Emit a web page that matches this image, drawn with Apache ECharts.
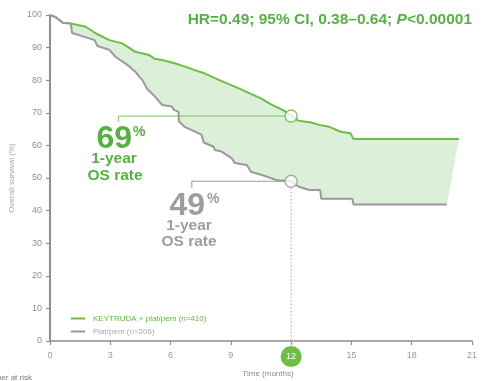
<!DOCTYPE html>
<html>
<head>
<meta charset="utf-8">
<script src="https://cdn.jsdelivr.net/npm/echarts@6/dist/echarts.min.js"></script>
<style>
  html, body { margin: 0; padding: 0; background: #fff; }
  #chart { width: 482px; height: 381px; }
</style>
</head>
<body>
<div id="chart"></div>
<script>
// Kaplan–Meier overall survival, months vs. % alive
const keytrudaName = 'KEYTRUDA + plat/pem (n=410)';
const platPemName = 'Plat/pem (n=206)';

const keytrudaOS = [
  [0, 100], [0.3, 99.3], [0.64, 97.6], [1.04, 97.4], [1.1, 96.9], [1.78, 96.4],
  [2.27, 94.4], [2.96, 92.3], [3.6, 91.3], [4.25, 88.7], [4.94, 87.7], [5.2, 86.6],
  [5.58, 86.2], [6.2, 85.2], [6.8, 84.0], [7.2, 83.1], [7.6, 82.3], [8.05, 81.1],
  [8.4, 80.1], [9.4, 77.5], [10.0, 75.8], [10.5, 74.4], [11.0, 72.6], [11.6, 70.8],
  [12, 69.2], [12.35, 67.6], [13, 67.0], [13.4, 66.3], [13.9, 65.7], [14.47, 64.2],
  [14.96, 63.7], [15.1, 62.0], [20.35, 62.0]
];

const platPemOS = [
  [0, 100], [0.3, 99.3], [0.64, 97.6], [1.04, 97.4], [1.1, 94.5], [1.73, 93.3],
  [2.22, 92.3], [2.37, 90.5], [2.96, 89.3], [3.26, 87.2], [3.85, 84.7], [4.25, 82.6],
  [4.44, 81.1], [4.6, 80.1], [4.84, 77.3], [5.18, 75.3], [5.58, 72.4], [6.07, 71.9],
  [6.17, 70.9], [6.4, 70.3], [6.42, 67.3], [6.7, 65.7], [7.06, 64.7], [7.55, 63.2],
  [7.65, 60.9], [8.15, 59.6], [8.2, 58.6], [8.54, 58.1], [9.04, 56.1], [9.2, 54.6],
  [9.8, 54.0], [10.0, 51.9], [10.7, 50.6], [11.26, 49.4], [12, 48.9], [12.4, 47.3],
  [12.9, 46.3], [13.45, 46.3], [13.5, 43.6], [15.05, 43.6], [15.1, 41.9], [19.75, 41.9]
];

// 1-year landmark rates (KEYTRUDA arm, plat/pem arm)
const landmarkMonth = 12;
const oneYearRates = [69, 49];
// where each rate callout bracket starts (month) and how far its tick drops (%)
const calloutStart = [3.42, 7.06];
const calloutTickDrop = [1.8, 2.1];

const xTickValues = [0, 3, 6, 9, 12, 15, 18, 21];
const yTickValues = [0, 10, 20, 30, 40, 50, 60, 70, 80, 90, 100];

const GREEN = '#6dbd47';
const GREEN_TEXT = '#56b045';
const GREY = '#9a9a9a';
const FILL = '#dcefd9';
const SANS = "'Liberation Sans', Arial, sans-serif";

const chart = echarts.init(document.getElementById('chart'), null, { renderer: 'canvas' });

function callout(i) {
  const x0 = calloutStart[i], r = oneYearRates[i];
  return [[x0, r - calloutTickDrop[i]], [x0, r], [landmarkMonth, r]];
}

function calloutText(x, y, text, size, align, color) {
  return {
    type: 'text', x: x, y: y, z: 10,
    style: { text: text, align: align, verticalAlign: 'middle',
      fontFamily: SANS, fontWeight: 'bold', fontSize: size, fill: color }
  };
}

chart.setOption({
  animation: false,
  grid: { left: 47, right: 10, top: 15, bottom: 40, containLabel: false },
  legend: {
    orient: 'vertical',
    left: 66,
    top: 309,
    itemWidth: 14,
    itemHeight: 2,
    itemGap: 4,
    icon: 'rect',
    textStyle: { fontFamily: SANS, fontSize: 8, lineHeight: 9, padding: [0, 0, 0, 3] },
    data: [
      { name: keytrudaName, textStyle: { color: '#62b83e' } },
      { name: platPemName, textStyle: { color: '#ababab' } }
    ]
  },
  xAxis: {
    type: 'value',
    min: 0, max: 21, interval: 3,
    axisLine: { lineStyle: { color: '#8f8f8f', width: 1.5 } },
    axisTick: { show: true, length: 4, lineStyle: { color: '#8f8f8f', width: 1.2 } },
    splitLine: { show: false },
    axisLabel: {
      margin: 5,
      formatter: v => (v === landmarkMonth ? '{hl|' + v + '}' : '{n|' + v + '}'),
      rich: {
        n: { fontFamily: SANS, fontSize: 9, color: '#9a9a9a', height: 20, lineHeight: 20 },
        hl: {
          fontFamily: SANS, fontSize: 9, color: '#fff', backgroundColor: '#6dbd47',
          width: 21, height: 21, lineHeight: 21, borderRadius: 11, align: 'center'
        }
      }
    }
  },
  yAxis: {
    type: 'value',
    min: 0, max: 100, interval: 10,
    name: 'Overall survival (%)',
    nameLocation: 'middle',
    nameGap: 29,
    nameTextStyle: { fontFamily: SANS, fontSize: 8, color: '#a8a8a8' },
    axisLine: { show: true, lineStyle: { color: '#8f8f8f', width: 2 } },
    axisTick: { show: true, length: 4, lineStyle: { color: '#8f8f8f', width: 1.2 } },
    splitLine: { show: false },
    axisLabel: { margin: 8, fontFamily: SANS, fontSize: 9, color: '#8f8f8f' }
  },
  series: [
    {
      type: 'custom',
      silent: true,
      z: 1,
      data: [[0, 0]],
      renderItem: (params, api) => {
        const pts = keytrudaOS.map(p => api.coord(p))
          .concat(platPemOS.slice().reverse().map(p => api.coord(p)));
        return { type: 'polygon', shape: { points: pts }, style: { fill: FILL } };
      }
    },
    {
      name: keytrudaName,
      type: 'line',
      data: keytrudaOS,
      symbol: 'none',
      z: 3,
      color: GREEN,
      lineStyle: { color: GREEN, width: 2 }
    },
    {
      name: platPemName,
      type: 'line',
      data: platPemOS,
      symbol: 'none',
      z: 3,
      color: GREY,
      lineStyle: { color: GREY, width: 2 }
    },
    {
      type: 'line', silent: true, symbol: 'none', z: 2,
      data: callout(0),
      lineStyle: { color: '#7cc35a', width: 1 }
    },
    {
      type: 'line', silent: true, symbol: 'none', z: 2,
      data: callout(1),
      lineStyle: { color: '#9a9a9a', width: 1 }
    },
    {
      type: 'line', silent: true, symbol: 'none', z: 2,
      data: [[landmarkMonth, oneYearRates[1]], [landmarkMonth, 0]],
      lineStyle: { color: '#a5a5a5', width: 1, type: [1.5, 2] }
    },
    {
      type: 'scatter', silent: true, z: 5,
      symbolSize: 12,
      data: [
        { value: [landmarkMonth, oneYearRates[0]], itemStyle: { color: '#fff', borderColor: GREEN, borderWidth: 1.5 } },
        { value: [landmarkMonth, oneYearRates[1]], itemStyle: { color: '#fff', borderColor: GREY, borderWidth: 1.5 } }
      ]
    }
  ],
  graphic: [
    {
      type: 'text', x: 472, y: 20, z: 10,
      style: {
        text: '{a|HR=0.49; 95% CI, 0.38–0.64; }{i|P}{a|<0.00001}',
        align: 'right', verticalAlign: 'middle',
        rich: {
          a: { fontFamily: SANS, fontWeight: 'bold', fontSize: 15.5, fill: GREEN_TEXT },
          i: { fontFamily: SANS, fontWeight: 'bold', fontStyle: 'italic', fontSize: 15.5, fill: GREEN_TEXT }
        }
      }
    },
    // KEYTRUDA arm 1-year callout
    calloutText(132, 139, String(oneYearRates[0]), 32, 'right', GREEN_TEXT),
    calloutText(133, 132, '%', 14, 'left', GREEN_TEXT),
    calloutText(114, 159, '1-year', 15.5, 'center', GREEN_TEXT),
    calloutText(115, 176, 'OS rate', 15.5, 'center', GREEN_TEXT),
    // plat/pem arm 1-year callout
    calloutText(205, 206, String(oneYearRates[1]), 32, 'right', '#9d9d9d'),
    calloutText(207, 199, '%', 14, 'left', '#9d9d9d'),
    calloutText(189, 226, '1-year', 15.5, 'center', '#9d9d9d'),
    calloutText(189, 242, 'OS rate', 15.5, 'center', '#9d9d9d'),
    {
      type: 'text', x: 268, y: 374, z: 10,
      style: { text: 'Time (months)', align: 'center', verticalAlign: 'middle',
        fontFamily: SANS, fontSize: 8, fill: '#8a8a8a' }
    },
    {
      type: 'text', x: 32, y: 378, z: 10,
      style: { text: 'Number at risk', align: 'right', verticalAlign: 'middle',
        fontFamily: SANS, fontSize: 8, fill: '#7a7a7a' }
    }
  ]
});
</script>
</body>
</html>
